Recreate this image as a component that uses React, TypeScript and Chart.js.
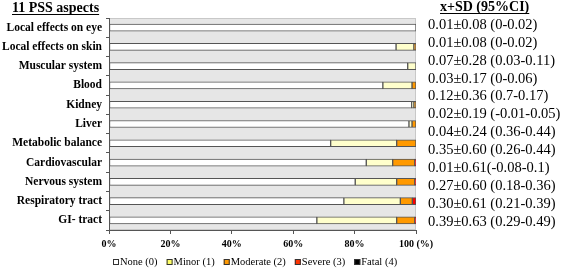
import React, { useEffect, useRef } from "react";
import { Chart, registerables } from "chart.js";

Chart.register(...registerables);

const categories = [
  "Local effects on eye",
  "Local effects on skin",
  "Muscular system",
  "Blood",
  "Kidney",
  "Liver",
  "Metabolic balance",
  "Cardiovascular",
  "Nervous system",
  "Respiratory tract",
  "GI- tract",
];

const noneVals = [100, 93.5, 97.3, 89.2, 98.6, 97.7, 72.2, 83.8, 80.2, 76.5, 67.7];
const minorVals = [0, 5.8, 2.7, 9.5, 0.7, 1.0, 21.5, 8.6, 13.5, 18.4, 26.0];
const moderateVals = [0, 0.7, 0, 1.3, 0.7, 1.3, 6.3, 7.2, 5.9, 3.9, 5.9];
const severeVals = [0, 0, 0, 0, 0, 0, 0, 0.4, 0.4, 1.2, 0.4];
const fatalVals = [0, 0, 0, 0, 0, 0, 0, 0, 0, 0, 0];

const seriesLabels = ["None (0)", "Minor (1)", "Moderate (2)", "Severe (3)", "Fatal (4)"];
const xTicks = [0, 20, 40, 60, 80, 100];

const titleLeft = "11 PSS aspects";
const titleRight = "x+SD (95%CI)";
const statLines = [
  "0.01±0.08 (0-0.02)",
  "0.01±0.08 (0-0.02)",
  "0.07±0.28 (0.03-0.11)",
  "0.03±0.17 (0-0.06)",
  "0.12±0.36 (0.7-0.17)",
  "0.02±0.19 (-0.01-0.05)",
  "0.04±0.24 (0.36-0.44)",
  "0.35±0.60 (0.26-0.44)",
  "0.01±0.61(-0.08-0.1)",
  "0.27±0.60 (0.18-0.36)",
  "0.30±0.61 (0.21-0.39)",
  "0.39±0.63 (0.29-0.49)",
];

const SERIF = '"Liberation Serif", "Times New Roman", serif';
const barColors = ["#FFFFFF", "#FFFFCC", "#FF9900", "#FF0000", "#000000"];
const legendColors = ["#FFFFFF", "#FFFF66", "#FF9900", "#FF3300", "#000000"];

const overlayPlugin = {
  id: "overlay",
  beforeDraw(chart: any) {
    const { ctx, chartArea } = chart;
    ctx.save();
    ctx.fillStyle = "#E6E6E6";
    ctx.fillRect(chartArea.left, chartArea.top, chartArea.right - chartArea.left, chartArea.bottom - chartArea.top);
    ctx.strokeStyle = "#C8C8C8";
    ctx.lineWidth = 1;
    ctx.strokeRect(chartArea.left + 0.5, chartArea.top + 0.5, chartArea.right - chartArea.left - 1, chartArea.bottom - chartArea.top - 1);
    ctx.restore();
  },
  afterDraw(chart: any) {
    const { ctx } = chart;
    ctx.save();
    ctx.fillStyle = "#000";
    ctx.strokeStyle = "#000";
    ctx.textBaseline = "middle";
    // left title
    ctx.font = `bold 14px ${SERIF}`;
    ctx.textAlign = "left";
    ctx.fillText(titleLeft, 12, 8);
    let w = ctx.measureText(titleLeft).width;
    ctx.lineWidth = 1;
    ctx.beginPath();
    ctx.moveTo(12, 14.5);
    ctx.lineTo(12 + w, 14.5);
    ctx.stroke();
    // right header
    ctx.fillText(titleRight, 440, 7);
    w = ctx.measureText(titleRight).width;
    ctx.beginPath();
    ctx.moveTo(440, 13.5);
    ctx.lineTo(440 + w, 13.5);
    ctx.stroke();
    // stat lines
    ctx.font = `14.5px ${SERIF}`;
    statLines.forEach((s, i) => {
      ctx.fillText(s, 428, 25 + i * 17.9);
    });
    // legend
    ctx.font = `10.5px ${SERIF}`;
    let x = 113;
    const y = 262;
    chart.data.datasets.forEach((ds: any, i: number) => {
      ctx.fillStyle = legendColors[i];
      ctx.fillRect(x, y - 3, 6, 6);
      ctx.strokeStyle = "#333";
      ctx.strokeRect(x + 0.5, y - 2.5, 5, 5);
      ctx.fillStyle = "#000";
      ctx.fillText(ds.label, x + 7, y);
      x += 7 + ctx.measureText(ds.label).width + 9;
    });
    ctx.restore();
  },
};

export default function App() {
  const ref = useRef<HTMLCanvasElement | null>(null);
  useEffect(() => {
    if (!ref.current) return;
    const vals = [noneVals, minorVals, moderateVals, severeVals, fatalVals];
    const chart = new Chart(ref.current, {
      type: "bar",
      data: {
        labels: categories,
        datasets: seriesLabels.map((label, i) => ({
          label,
          data: vals[i],
          backgroundColor: barColors[i],
          borderColor: "#555555",
          borderWidth: 1,
          borderSkipped: false,
          barThickness: 7,
        })),
      },
      options: {
        indexAxis: "y",
        animation: false,
        responsive: false,
        devicePixelRatio: 1,
        layout: { padding: { top: 18, right: 150, left: 0, bottom: 0 } },
        plugins: { legend: { display: false }, tooltip: { enabled: false } },
        scales: {
          x: {
            stacked: true,
            min: 0,
            max: 100,
            afterBuildTicks: (scale: any) => {
              scale.ticks = xTicks.map((v) => ({ value: v }));
            },
            afterFit: (scale: any) => {
              scale.height = 38;
            },
            ticks: {
              font: { family: SERIF, size: 10, weight: "bold" },
              color: "#000",
              padding: 4,
              maxRotation: 0,
              callback: (v: any) => (Number(v) === 100 ? "100 (%)" : `${v}%`),
            },
            grid: { drawOnChartArea: false, tickLength: 4, color: "#555" },
            border: { color: "#555", width: 1 },
          },
          y: {
            stacked: true,
            afterFit: (scale: any) => {
              scale.width = 109;
            },
            ticks: {
              font: { family: SERIF, size: 11.5, weight: "bold" },
              color: "#000",
              padding: 4,
              autoSkip: false,
            },
            grid: { drawOnChartArea: false, tickLength: 3, offset: true, color: "#555" },
            border: { color: "#555", width: 1 },
          },
        },
      },
      plugins: [overlayPlugin],
    } as any);
    return () => chart.destroy();
  }, []);
  return (
    <div style={{ position: "absolute", left: 0, top: 0, width: 566, height: 268, background: "#fff" }}>
      <canvas ref={ref} width={566} height={268} style={{ display: "block", width: 566, height: 268 }} />
    </div>
  );
}
